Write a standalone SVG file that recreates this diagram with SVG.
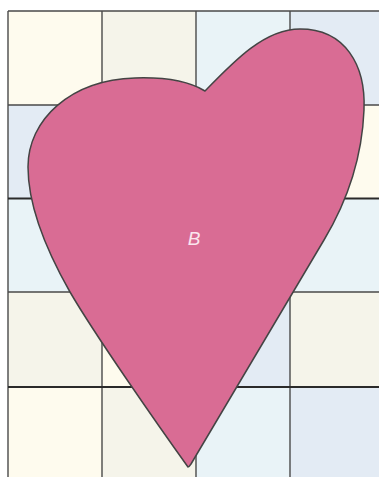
<svg xmlns="http://www.w3.org/2000/svg" width="379" height="477" viewBox="0 0 379 477">
<style>
.c1{fill:#fefbee}.c2{fill:#f5f4ea}.c3{fill:#e9f3f7}.c4{fill:#e3ebf4}
.g{stroke:#4a4a4a;stroke-width:1.4;fill:none}
.gt{stroke:#2a2a2a;stroke-width:2.2;fill:none}
</style>
<rect width="379" height="477" fill="#ffffff"/>
<g id="grid">
<rect class="c1" x="8" y="11" width="94" height="94"/>
<rect class="c2" x="102" y="11" width="94" height="94"/>
<rect class="c3" x="196" y="11" width="94" height="94"/>
<rect class="c4" x="290" y="11" width="89" height="94"/>
<rect class="c4" x="8" y="105" width="94" height="93"/>
<rect class="c2" x="102" y="105" width="94" height="93"/>
<rect class="c3" x="196" y="105" width="94" height="93"/>
<rect class="c1" x="290" y="105" width="89" height="93"/>
<rect class="c3" x="8" y="198" width="94" height="94"/>
<rect class="c3" x="102" y="198" width="94" height="94"/>
<rect class="c4" x="196" y="198" width="94" height="94"/>
<rect class="c3" x="290" y="198" width="89" height="94"/>
<rect class="c2" x="8" y="292" width="94" height="95"/>
<rect class="c1" x="102" y="292" width="94" height="95"/>
<rect class="c4" x="196" y="292" width="94" height="95"/>
<rect class="c2" x="290" y="292" width="89" height="95"/>
<rect class="c1" x="8" y="387" width="94" height="90"/>
<rect class="c2" x="102" y="387" width="94" height="90"/>
<rect class="c3" x="196" y="387" width="94" height="90"/>
<rect class="c4" x="290" y="387" width="89" height="90"/>
<path class="g" d="M8 11H379M8 11V477M102 11V477M196 11V477M290 11V477M8 105H379M8 292H379"/>
<path class="gt" d="M8 198.5H379M8 387H379"/>
</g>
<g id="heart">
<path d="M188 467 C160 428 95 335 70 292 C45 248 28 205 28 167 C28 120 70 80 135 78 C165 77 190 82 205 91 C235 60 265 29 300 29 C345 29 366 65 364 110 C362 160 345 205 324 240 L191 464 Q189 467 188 467 Z" fill="#d96c94" stroke="#444" stroke-width="1.5" stroke-linejoin="round"/>
<text x="194" y="245" font-family="Liberation Sans, Arial, sans-serif" font-size="19" font-style="italic" fill="#fbe6ee" text-anchor="middle">B</text>
</g>
</svg>
